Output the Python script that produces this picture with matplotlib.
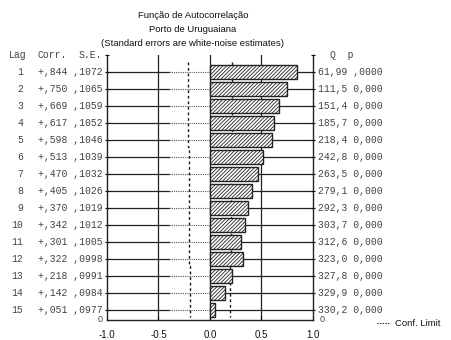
import numpy as np
import matplotlib
matplotlib.use('Agg')
import matplotlib.pyplot as plt
from matplotlib import transforms

# autocorrelation table
lags = list(range(1, 16))
corr = [0.844, 0.750, 0.669, 0.617, 0.598, 0.513, 0.470, 0.405,
        0.370, 0.342, 0.301, 0.322, 0.218, 0.142, 0.051]
se = [0.1072, 0.1065, 0.1059, 0.1052, 0.1046, 0.1039, 0.1032, 0.1026,
      0.1019, 0.1012, 0.1005, 0.0998, 0.0991, 0.0984, 0.0977]
q_stat = ['61,99', '111,5', '151,4', '185,7', '218,4', '242,8', '263,5', '279,1',
          '292,3', '303,7', '312,6', '323,0', '327,8', '329,9', '330,2']
p_val = [',0000'] + ['0,000'] * 14
title_lines = ['Função de Autocorrelação', 'Porto de Uruguaiana',
               '(Standard errors are white-noise estimates)']
xticks = [-1.0, -0.5, 0.0, 0.5, 1.0]

W, H = 452, 340
fig = plt.figure(figsize=(W / 100, H / 100), dpi=100)
ax = fig.add_axes([107 / W, 1 - 320 / H, 206 / W, 265 / H])

dark = '#222222'
txt = '#444444'
mono = 'Liberation Mono'
sans = 'Liberation Sans'

# row lines, solid then dotted towards zero
for lag in lags:
    ax.plot([-1, -0.4], [lag, lag], color=dark, lw=0.9, zorder=1)
    ax.plot([-0.4, 0], [lag, lag], color='#555555', lw=0.8, ls=(0, (1, 1)), zorder=1)
    ax.plot([0, 1], [lag, lag], color=dark, lw=0.9, zorder=1)

for x in [-0.5, 0.0, 0.5]:
    ax.axvline(x, color=dark, lw=0.9, zorder=1)

# confidence limits (2 * S.E.)
conf = 2 * np.array(se)
edges = np.r_[np.array(lags) - 0.6, lags[-1] + 0.4]
for sign in (1, -1):
    ax.stairs(sign * conf, edges, orientation='horizontal', color='#1a1a1a', lw=1.0,
              ls=(0, (2, 2)), baseline=None, zorder=2)

plt.rcParams['hatch.linewidth'] = 0.6
ax.barh(lags, corr, height=0.8, color='white', edgecolor=dark, hatch='/////////',
        lw=1.0, zorder=3)

ax.set_xlim(-1, 1)
ax.set_ylim(15.6, 0)
ax.set_xticks(xticks)
ax.set_xticklabels([f'{v:.1f}' for v in xticks], fontsize=7, family=sans, color='#111111')
ax.set_yticks([0] + lags)
ax.set_yticklabels([])
ax.tick_params(axis='x', length=3, width=0.8, direction='in', pad=7)
ax.tick_params(axis='y', length=3, width=0.8, direction='inout', left=True, right=True)
ax.spines['top'].set_visible(False)
for s in ['left', 'right', 'bottom']:
    ax.spines[s].set_linewidth(1.0)
    ax.spines[s].set_color(dark)
ax.text(-0.02, 0.0, '0', transform=ax.transAxes, ha='right', va='center',
        fontsize=6.5, family=sans, color=txt)
ax.text(1.03, 0.0, '0', transform=ax.transAxes, ha='left', va='center',
        fontsize=6.5, family=sans, color=txt)

# table columns beside the axes
tr = transforms.blended_transform_factory(fig.transFigure, ax.transData)
fs = 7
kw = dict(transform=tr, fontsize=fs, family=mono, color=txt, va='center')
fig.text(9 / W, 0, 'Lag', **kw)
fig.text(67 / W, 0, 'Corr.', ha='right', **kw)
fig.text(102 / W, 0, 'S.E.', ha='right', **kw)
fig.text(330 / W, 0, 'Q  p', **kw)
for i, lag in enumerate(lags):
    fig.text(23 / W, lag, str(lag), ha='right', **kw)
    c = f'+{corr[i]:.3f}'.replace('0.', ',')
    s = f'{se[i]:.4f}'.replace('0.', ',')
    fig.text(38 / W, lag, f'{c} {s}', **kw)
    fig.text(318 / W, lag, f'{q_stat[i]} {p_val[i]}', **kw)

for k, line in enumerate(title_lines):
    fig.text(193 / W, 1 - (16 + 14 * k) / H, line, fontsize=6.8, family=sans,
             color='#111111', ha='center', va='center')

# legend
fig.lines.append(plt.Line2D([377 / W, 390 / W], [1 - 323 / H] * 2, transform=fig.transFigure,
                            color=dark, lw=0.7, ls=(0, (1.5, 1.2))))
fig.text(395 / W, 1 - 323 / H, 'Conf. Limit', fontsize=6.8, family=sans,
         color='#111111', va='center')

fig.savefig('out.png', dpi=100)
